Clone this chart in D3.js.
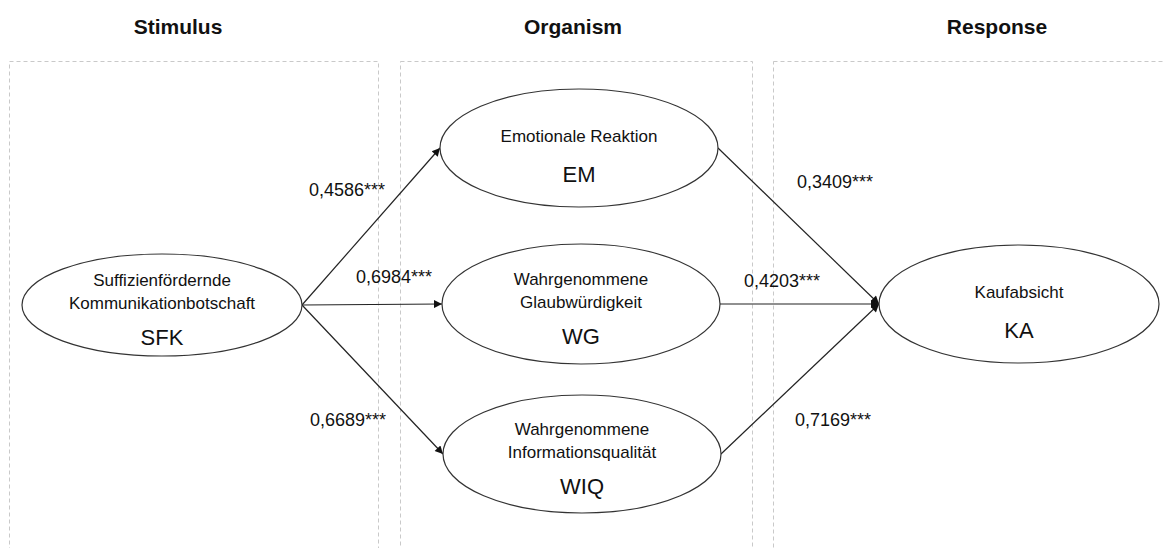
<!DOCTYPE html>
<html>
<head>
<meta charset="utf-8">
<script src="https://cdn.jsdelivr.net/npm/d3@7"></script>
<style>
  body { margin: 0; background: #fff; }
  svg text { font-family: "Liberation Sans", Arial, sans-serif; fill: #111; }
</style>
</head>
<body>
<svg id="chart" width="1163" height="548"></svg>
<script>
// S-O-R model: stage titles, constructs and path coefficients
var stages = ["Stimulus", "Organism", "Response"];
var nodeIds = ["SFK", "EM", "WG", "WIQ", "KA"];
var nodeNames = [
  ["Suffizienfördernde", "Kommunikationbotschaft"],
  ["Emotionale Reaktion"],
  ["Wahrgenommene", "Glaubwürdigkeit"],
  ["Wahrgenommene", "Informationsqualität"],
  ["Kaufabsicht"]
];
var nodeStage = [0, 1, 1, 1, 2];
var edgeFrom = ["SFK", "SFK", "SFK", "EM", "WG", "WIQ"];
var edgeTo   = ["EM", "WG", "WIQ", "KA", "KA", "KA"];
var coefs    = ["0,4586", "0,6984", "0,6689", "0,3409", "0,4203", "0,7169"];
var signif   = ["***", "***", "***", "***", "***", "***"];

// layout (pixels)
var stageBox = [[9, 378], [400, 752], [773, 1175]];
var stageTitleX = [178, 573, 997];
var nodeLayout = {
  SFK: {cx: 162, cy: 305, rx: 140, ry: 51},
  EM:  {cx: 579, cy: 148, rx: 139, ry: 59},
  WG:  {cx: 581, cy: 304, rx: 139, ry: 60},
  WIQ: {cx: 582, cy: 454, rx: 139, ry: 59},
  KA:  {cx: 1019, cy: 304, rx: 140, ry: 59}
};
var labelPos = [[309, 196], [356, 283], [310, 426], [797, 188], [744, 287], [795, 426]];

var svg = d3.select("#chart");

svg.append("defs").append("marker")
  .attr("id", "arr")
  .attr("viewBox", "0 0 10 10")
  .attr("refX", 10).attr("refY", 5)
  .attr("markerWidth", 10).attr("markerHeight", 8)
  .attr("markerUnits", "userSpaceOnUse")
  .attr("orient", "auto")
  .append("path").attr("d", "M0,0L10,5L0,10Z").attr("fill", "#111");

// dashed stage boxes
svg.selectAll("rect.stage").data(stageBox).enter().append("rect")
  .attr("class", "stage")
  .attr("x", function(d) { return d[0] + 0.5; })
  .attr("y", 61.5)
  .attr("width", function(d) { return d[1] - d[0]; })
  .attr("height", 520)
  .attr("fill", "none")
  .attr("stroke", "#c9c9c9")
  .attr("stroke-dasharray", "4,3");

svg.selectAll("text.title").data(stages).enter().append("text")
  .attr("class", "title")
  .attr("x", function(d, i) { return stageTitleX[i]; })
  .attr("y", 34)
  .attr("text-anchor", "middle")
  .attr("font-size", 21)
  .attr("font-weight", "bold")
  .text(function(d) { return d; });

// edges
var edges = edgeFrom.map(function(f, i) {
  var a = nodeLayout[f], b = nodeLayout[edgeTo[i]];
  return {x1: a.cx + a.rx, y1: a.cy, x2: b.cx - b.rx, y2: b.cy, label: coefs[i] + signif[i], pos: labelPos[i]};
});

svg.selectAll("line.edge").data(edges).enter().append("line")
  .attr("class", "edge")
  .attr("x1", function(d) { return d.x1; })
  .attr("y1", function(d) { return d.y1; })
  .attr("x2", function(d) { return d.x2; })
  .attr("y2", function(d) { return d.y2; })
  .attr("stroke", "#222")
  .attr("stroke-width", 1.2)
  .attr("marker-end", "url(#arr)");

svg.selectAll("text.coef").data(edges).enter().append("text")
  .attr("class", "coef")
  .attr("x", function(d) { return d.pos[0]; })
  .attr("y", function(d) { return d.pos[1]; })
  .attr("font-size", 18)
  .text(function(d) { return d.label; });

// nodes
var nodes = nodeIds.map(function(id, i) {
  return {id: id, lines: nodeNames[i], stage: nodeStage[i], g: nodeLayout[id]};
});

var ng = svg.selectAll("g.node").data(nodes).enter().append("g")
  .attr("class", "node")
  .attr("transform", function(d) { return "translate(" + d.g.cx + "," + d.g.cy + ")"; });

ng.append("ellipse")
  .attr("rx", function(d) { return d.g.rx; })
  .attr("ry", function(d) { return d.g.ry; })
  .attr("fill", "#fff")
  .attr("stroke", "#333")
  .attr("stroke-width", 1.2);

ng.each(function(d) {
  var g = d3.select(this);
  var two = d.lines.length > 1;
  var offs = two ? [-19, 4] : [-6];
  d.lines.forEach(function(t, j) {
    g.append("text")
      .attr("y", offs[j])
      .attr("text-anchor", "middle")
      .attr("font-size", 17)
      .text(t);
  });
  g.append("text")
    .attr("y", two ? 40 : 34)
    .attr("text-anchor", "middle")
    .attr("font-size", 22)
    .text(d.id);
});
</script>
</body>
</html>
